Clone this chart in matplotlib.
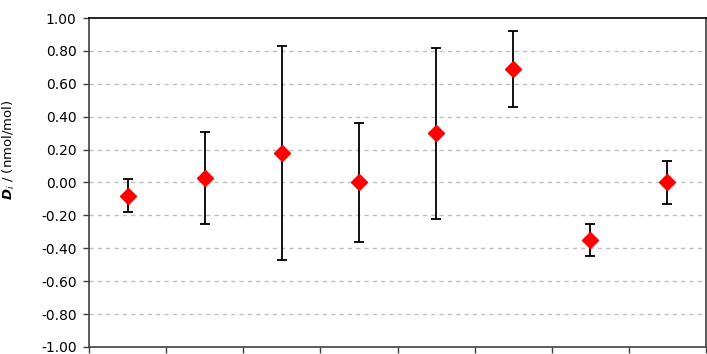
import matplotlib
matplotlib.use("Agg")
import matplotlib.pyplot as plt
import numpy as np

# degrees of equivalence per participant, with expanded uncertainties
positions = [1, 2, 3, 4, 5, 6, 7, 8]
d_values = [-0.08, 0.03, 0.18, 0.00, 0.30, 0.69, -0.35, 0.00]
d_uncert = [0.10, 0.28, 0.65, 0.36, 0.52, 0.23, 0.10, 0.13]
y_ticks = [-1.0, -0.8, -0.6, -0.4, -0.2, 0.0, 0.2, 0.4, 0.6, 0.8, 1.0]


def plot_deviations():
    fig = plt.figure(figsize=(7.07, 3.54), dpi=100)
    ax = fig.add_axes([0.126, 0.02, 0.8726, 0.929])

    ax.errorbar(positions, d_values, yerr=d_uncert, fmt="none",
                ecolor="black", elinewidth=1.3, capsize=3.5, capthick=1.3, zorder=2)
    ax.plot(positions, d_values, linestyle="none", marker="D", markersize=8,
            color="#ff0000", markeredgecolor="#ff0000", zorder=3)

    ax.set_xlim(0.5, 8.5)
    ax.set_ylim(-1.0, 1.0)
    ax.set_xticks(np.arange(0.5, 8.6, 1.0))
    ax.set_xticklabels([])
    ax.set_yticks(y_ticks)
    ax.set_yticklabels(["{:.2f}".format(v) for v in y_ticks])

    for v in y_ticks[1:-1]:
        ax.axhline(v, color="#c0c0c0", linestyle=(0, (3, 3)), linewidth=1, zorder=1)

    ax.tick_params(axis="both", direction="out", length=4, width=1,
                   color="#404040", labelsize=10, labelcolor="black", pad=5)
    for side in ["left", "bottom", "right"]:
        ax.spines[side].set_color("#404040")
        ax.spines[side].set_linewidth(1.2)
    ax.spines["top"].set_color("black")
    ax.spines["top"].set_linewidth(1.2)

    ax.set_ylabel(r"$\mathbfit{D}_{\mathit{i}}$ / (nmol/mol)", fontsize=9.5)
    ax.yaxis.set_label_coords(-0.117, 0.60)
    fig.savefig("out.png", dpi=100)


if __name__ == '__main__':
    plot_deviations()
